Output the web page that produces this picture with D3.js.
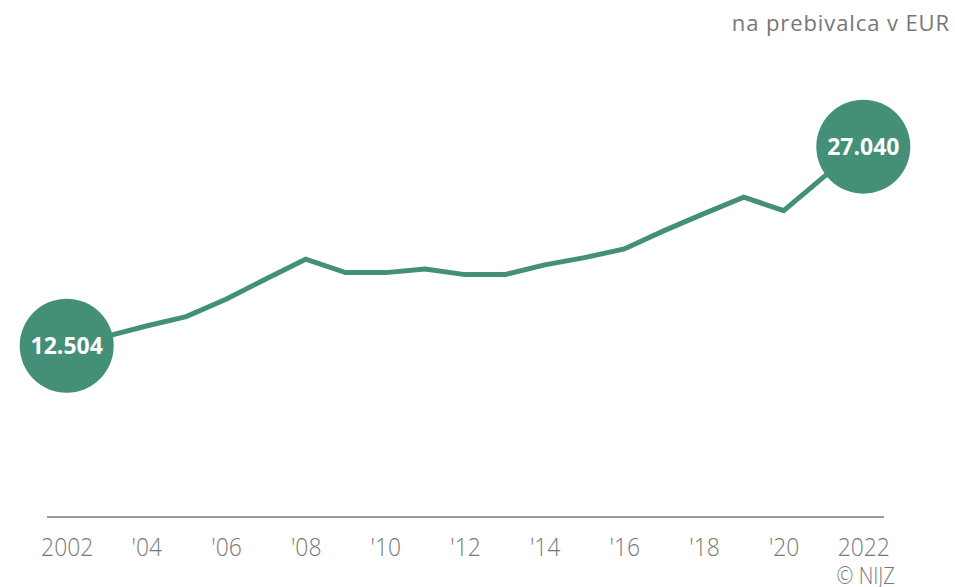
<!DOCTYPE html>
<html><head><meta charset="utf-8">
<script src="https://cdn.jsdelivr.net/npm/d3@7"></script>
<style>body{margin:0;background:#fff}svg{display:block}</style>
</head><body>
<svg id="c" width="955" height="587"></svg>
<script>
const years = [2002,2003,2004,2005,2006,2007,2008,2009,2010,2011,2012,2013,2014,2015,2016,2017,2018,2019,2020,2021,2022];
const values = [12504,13185,13950,14631,15900,17385,18824,17845,17845,18115,17699,17699,18408,18941,19576,20913,22155,23353,22374,24821,27040];
const tickYears = [2002,2004,2006,2008,2010,2012,2014,2016,2018,2020,2022];
const tickLabels = ["2002","'04","'06","'08","'10","'12","'14","'16","'18","'20","2022"];
const unitLabel = "na prebivalca v EUR";
const sourceLabel = "© NIJZ";

const color = "#438f78";
const svg = d3.select("#c");
const x = d3.scaleLinear().domain([2002,2022]).range([66.7,863.3]);
const y = d3.scaleLinear().domain([0,27040]).range([517,146.7]);

svg.append("line").attr("x1",47).attr("x2",884).attr("y1",517).attr("y2",517)
  .attr("stroke","#9a9a9a").attr("stroke-width",2);

const xAxis = d3.axisBottom(x).tickValues(tickYears).tickSize(0).tickPadding(0)
  .tickFormat((d,i)=>tickLabels[i]);
const ga = svg.append("g").attr("transform","translate(0,556)").call(xAxis);
ga.select(".domain").remove();
ga.selectAll("text").attr("dy",0).attr("fill","#777")
  .style("font-family","'Open Sans'").style("font-weight",300).style("font-size","26px")
  .attr("transform","scale(0.88,1)");

const line = d3.line().x((d,i)=>x(years[i])).y(d=>y(d));
svg.append("path").datum(values).attr("d",line).attr("fill","none")
  .attr("stroke",color).attr("stroke-width",5).attr("stroke-linejoin","miter");

const ends = [0, values.length-1];
ends.forEach(i=>{
  svg.append("circle").attr("cx",x(years[i])).attr("cy",y(values[i])).attr("r",47).attr("fill",color);
  svg.append("text").attr("x",x(years[i])).attr("y",y(values[i])+8.5)
    .attr("text-anchor","middle").attr("fill","#fff")
    .style("font-family","'Open Sans'").style("font-weight",700).style("font-size","23px")
    .text(d3.format(",")(values[i]).replace(/,/g,"."));
});

svg.append("text").attr("x",950).attr("y",31).attr("text-anchor","end").attr("fill","#777")
  .style("font-family","'Open Sans'").style("font-size","22px").style("letter-spacing","0.9px").text(unitLabel);
svg.append("text").attr("x",0).attr("y",0).attr("text-anchor","end").attr("fill","#777")
  .attr("transform","translate(895,584) scale(0.88,1)")
  .style("font-family","'Open Sans'").style("font-weight",300).style("font-size","23px").text(sourceLabel);
</script>
</body></html>
